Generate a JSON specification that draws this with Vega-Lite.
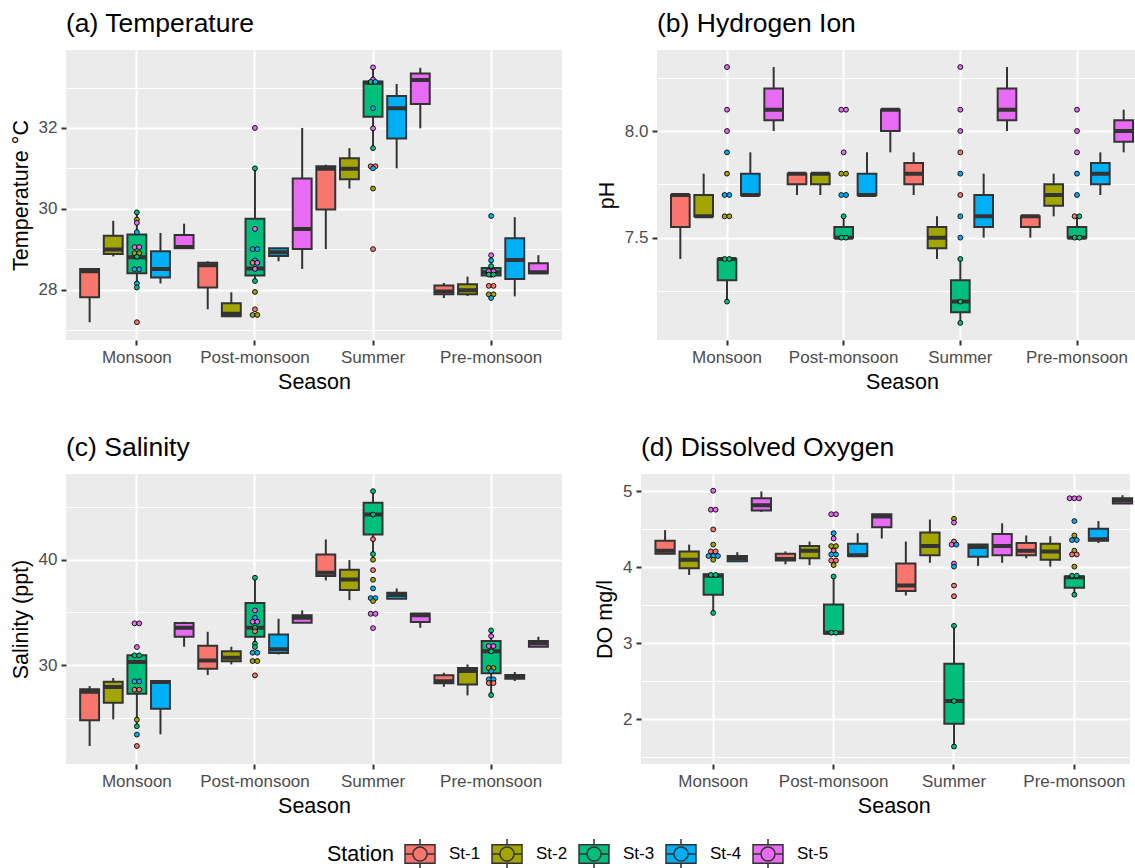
{
  "$schema": "https://vega.github.io/schema/vega-lite/v6.json",
  "padding": {"left": 10, "top": 10, "right": 0, "bottom": 0},
  "background": "#FFFFFF",
  "datasets": {
    "boxes": [
      {"param": "T", "season": "Monsoon", "station": "St-1", "low": 27.19, "q1": 27.81, "median": 28.45, "q3": 28.51, "high": 28.53},
      {"param": "T", "season": "Monsoon", "station": "St-2", "low": 28.82, "q1": 28.88, "median": 28.99, "q3": 29.33, "high": 29.70},
      {"param": "T", "season": "Monsoon", "station": "St-3", "low": 28.04, "q1": 28.40, "median": 28.80, "q3": 29.36, "high": 29.91},
      {"param": "T", "season": "Monsoon", "station": "St-4", "low": 28.15, "q1": 28.30, "median": 28.51, "q3": 28.95, "high": 29.40},
      {"param": "T", "season": "Monsoon", "station": "St-5", "low": 29.02, "q1": 29.02, "median": 29.05, "q3": 29.35, "high": 29.63},
      {"param": "T", "season": "Post-monsoon", "station": "St-1", "low": 27.51, "q1": 28.05, "median": 28.60, "q3": 28.66, "high": 28.70},
      {"param": "T", "season": "Post-monsoon", "station": "St-2", "low": 27.34, "q1": 27.34, "median": 27.40, "q3": 27.66, "high": 27.93},
      {"param": "T", "season": "Post-monsoon", "station": "St-3", "low": 28.21, "q1": 28.35, "median": 28.52, "q3": 29.75, "high": 31.00},
      {"param": "T", "season": "Post-monsoon", "station": "St-4", "low": 28.70, "q1": 28.83, "median": 28.92, "q3": 29.02, "high": 29.02},
      {"param": "T", "season": "Post-monsoon", "station": "St-5", "low": 28.51, "q1": 29.00, "median": 29.50, "q3": 30.75, "high": 32.00},
      {"param": "T", "season": "Summer", "station": "St-1", "low": 29.00, "q1": 29.98, "median": 30.99, "q3": 31.05, "high": 31.09},
      {"param": "T", "season": "Summer", "station": "St-2", "low": 30.50, "q1": 30.73, "median": 30.99, "q3": 31.25, "high": 31.50},
      {"param": "T", "season": "Summer", "station": "St-3", "low": 31.50, "q1": 32.28, "median": 33.12, "q3": 33.15, "high": 33.50},
      {"param": "T", "season": "Summer", "station": "St-4", "low": 31.00, "q1": 31.74, "median": 32.49, "q3": 32.79, "high": 33.09},
      {"param": "T", "season": "Summer", "station": "St-5", "low": 31.99, "q1": 32.59, "median": 33.19, "q3": 33.35, "high": 33.49},
      {"param": "T", "season": "Pre-monsoon", "station": "St-1", "low": 27.79, "q1": 27.88, "median": 27.95, "q3": 28.10, "high": 28.16},
      {"param": "T", "season": "Pre-monsoon", "station": "St-2", "low": 27.84, "q1": 27.88, "median": 27.98, "q3": 28.13, "high": 28.32},
      {"param": "T", "season": "Pre-monsoon", "station": "St-3", "low": 28.29, "q1": 28.35, "median": 28.43, "q3": 28.53, "high": 28.58},
      {"param": "T", "season": "Pre-monsoon", "station": "St-4", "low": 27.83, "q1": 28.26, "median": 28.73, "q3": 29.27, "high": 29.79},
      {"param": "T", "season": "Pre-monsoon", "station": "St-5", "low": 28.40, "q1": 28.40, "median": 28.43, "q3": 28.65, "high": 28.85},

      {"param": "pH", "season": "Monsoon", "station": "St-1", "low": 7.4, "q1": 7.55, "median": 7.7, "q3": 7.7, "high": 7.7},
      {"param": "pH", "season": "Monsoon", "station": "St-2", "low": 7.6, "q1": 7.6, "median": 7.6, "q3": 7.7, "high": 7.8},
      {"param": "pH", "season": "Monsoon", "station": "St-3", "low": 7.2, "q1": 7.3, "median": 7.4, "q3": 7.4, "high": 7.4},
      {"param": "pH", "season": "Monsoon", "station": "St-4", "low": 7.7, "q1": 7.7, "median": 7.7, "q3": 7.8, "high": 7.9},
      {"param": "pH", "season": "Monsoon", "station": "St-5", "low": 8.0, "q1": 8.05, "median": 8.1, "q3": 8.2, "high": 8.3},
      {"param": "pH", "season": "Post-monsoon", "station": "St-1", "low": 7.7, "q1": 7.75, "median": 7.8, "q3": 7.8, "high": 7.8},
      {"param": "pH", "season": "Post-monsoon", "station": "St-2", "low": 7.7, "q1": 7.75, "median": 7.8, "q3": 7.8, "high": 7.8},
      {"param": "pH", "season": "Post-monsoon", "station": "St-3", "low": 7.5, "q1": 7.5, "median": 7.5, "q3": 7.55, "high": 7.6},
      {"param": "pH", "season": "Post-monsoon", "station": "St-4", "low": 7.7, "q1": 7.7, "median": 7.7, "q3": 7.8, "high": 7.9},
      {"param": "pH", "season": "Post-monsoon", "station": "St-5", "low": 7.9, "q1": 8.0, "median": 8.1, "q3": 8.1, "high": 8.1},
      {"param": "pH", "season": "Summer", "station": "St-1", "low": 7.7, "q1": 7.75, "median": 7.8, "q3": 7.85, "high": 7.9},
      {"param": "pH", "season": "Summer", "station": "St-2", "low": 7.4, "q1": 7.45, "median": 7.5, "q3": 7.55, "high": 7.6},
      {"param": "pH", "season": "Summer", "station": "St-3", "low": 7.1, "q1": 7.15, "median": 7.2, "q3": 7.3, "high": 7.4},
      {"param": "pH", "season": "Summer", "station": "St-4", "low": 7.5, "q1": 7.55, "median": 7.6, "q3": 7.7, "high": 7.8},
      {"param": "pH", "season": "Summer", "station": "St-5", "low": 8.0, "q1": 8.05, "median": 8.1, "q3": 8.2, "high": 8.3},
      {"param": "pH", "season": "Pre-monsoon", "station": "St-1", "low": 7.5, "q1": 7.55, "median": 7.6, "q3": 7.6, "high": 7.6},
      {"param": "pH", "season": "Pre-monsoon", "station": "St-2", "low": 7.6, "q1": 7.65, "median": 7.7, "q3": 7.75, "high": 7.8},
      {"param": "pH", "season": "Pre-monsoon", "station": "St-3", "low": 7.5, "q1": 7.5, "median": 7.5, "q3": 7.55, "high": 7.6},
      {"param": "pH", "season": "Pre-monsoon", "station": "St-4", "low": 7.7, "q1": 7.75, "median": 7.8, "q3": 7.85, "high": 7.9},
      {"param": "pH", "season": "Pre-monsoon", "station": "St-5", "low": 7.9, "q1": 7.95, "median": 8.0, "q3": 8.05, "high": 8.1},

      {"param": "S", "season": "Monsoon", "station": "St-1", "low": 22.31, "q1": 24.75, "median": 27.47, "q3": 27.69, "high": 28.0},
      {"param": "S", "season": "Monsoon", "station": "St-2", "low": 24.84, "q1": 26.42, "median": 27.91, "q3": 28.42, "high": 28.77},
      {"param": "S", "season": "Monsoon", "station": "St-3", "low": 24.18, "q1": 27.28, "median": 30.28, "q3": 30.92, "high": 30.92},
      {"param": "S", "season": "Monsoon", "station": "St-4", "low": 23.42, "q1": 25.85, "median": 28.39, "q3": 28.48, "high": 28.48},
      {"param": "S", "season": "Monsoon", "station": "St-5", "low": 31.74, "q1": 32.69, "median": 33.54, "q3": 33.99, "high": 34.11},
      {"param": "S", "season": "Post-monsoon", "station": "St-1", "low": 29.05, "q1": 29.65, "median": 30.44, "q3": 31.84, "high": 33.16},
      {"param": "S", "season": "Post-monsoon", "station": "St-2", "low": 30.06, "q1": 30.35, "median": 30.70, "q3": 31.30, "high": 31.74},
      {"param": "S", "season": "Post-monsoon", "station": "St-3", "low": 31.71, "q1": 32.69, "median": 33.54, "q3": 35.89, "high": 38.29},
      {"param": "S", "season": "Post-monsoon", "station": "St-4", "low": 31.01, "q1": 31.14, "median": 31.49, "q3": 32.91, "high": 34.40},
      {"param": "S", "season": "Post-monsoon", "station": "St-5", "low": 34.02, "q1": 34.02, "median": 34.49, "q3": 34.72, "high": 35.19},
      {"param": "S", "season": "Summer", "station": "St-1", "low": 38.04, "q1": 38.45, "median": 38.77, "q3": 40.51, "high": 41.93},
      {"param": "S", "season": "Summer", "station": "St-2", "low": 36.17, "q1": 37.12, "median": 38.13, "q3": 39.05, "high": 39.97},
      {"param": "S", "season": "Summer", "station": "St-3", "low": 40.54, "q1": 42.41, "median": 44.30, "q3": 45.41, "high": 46.52},
      {"param": "S", "season": "Summer", "station": "St-4", "low": 36.30, "q1": 36.30, "median": 36.65, "q3": 36.87, "high": 37.28},
      {"param": "S", "season": "Summer", "station": "St-5", "low": 33.54, "q1": 34.08, "median": 34.72, "q3": 34.90, "high": 34.90},
      {"param": "S", "season": "Pre-monsoon", "station": "St-1", "low": 27.94, "q1": 28.26, "median": 28.45, "q3": 29.02, "high": 29.27},
      {"param": "S", "season": "Pre-monsoon", "station": "St-2", "low": 27.12, "q1": 28.16, "median": 29.43, "q3": 29.72, "high": 30.06},
      {"param": "S", "season": "Pre-monsoon", "station": "St-3", "low": 27.15, "q1": 29.21, "median": 31.30, "q3": 32.28, "high": 33.29},
      {"param": "S", "season": "Pre-monsoon", "station": "St-4", "low": 28.48, "q1": 28.70, "median": 28.86, "q3": 29.05, "high": 29.34},
      {"param": "S", "season": "Pre-monsoon", "station": "St-5", "low": 31.71, "q1": 31.75, "median": 32.06, "q3": 32.28, "high": 32.69},

      {"param": "DO", "season": "Monsoon", "station": "St-1", "low": 4.18, "q1": 4.18, "median": 4.22, "q3": 4.35, "high": 4.49},
      {"param": "DO", "season": "Monsoon", "station": "St-2", "low": 3.90, "q1": 3.99, "median": 4.10, "q3": 4.21, "high": 4.30},
      {"param": "DO", "season": "Monsoon", "station": "St-3", "low": 3.40, "q1": 3.64, "median": 3.89, "q3": 3.91, "high": 3.91},
      {"param": "DO", "season": "Monsoon", "station": "St-4", "low": 4.08, "q1": 4.08, "median": 4.12, "q3": 4.15, "high": 4.20},
      {"param": "DO", "season": "Monsoon", "station": "St-5", "low": 4.73, "q1": 4.75, "median": 4.82, "q3": 4.91, "high": 5.00},
      {"param": "DO", "season": "Post-monsoon", "station": "St-1", "low": 4.04, "q1": 4.09, "median": 4.11, "q3": 4.18, "high": 4.21},
      {"param": "DO", "season": "Post-monsoon", "station": "St-2", "low": 4.03, "q1": 4.12, "median": 4.22, "q3": 4.28, "high": 4.34},
      {"param": "DO", "season": "Post-monsoon", "station": "St-3", "low": 3.13, "q1": 3.13, "median": 3.14, "q3": 3.51, "high": 3.88},
      {"param": "DO", "season": "Post-monsoon", "station": "St-4", "low": 4.15, "q1": 4.15, "median": 4.16, "q3": 4.31, "high": 4.45},
      {"param": "DO", "season": "Post-monsoon", "station": "St-5", "low": 4.38, "q1": 4.53, "median": 4.67, "q3": 4.70, "high": 4.70},
      {"param": "DO", "season": "Summer", "station": "St-1", "low": 3.63, "q1": 3.69, "median": 3.76, "q3": 4.05, "high": 4.34},
      {"param": "DO", "season": "Summer", "station": "St-2", "low": 4.06, "q1": 4.16, "median": 4.28, "q3": 4.46, "high": 4.63},
      {"param": "DO", "season": "Summer", "station": "St-3", "low": 1.64, "q1": 1.94, "median": 2.24, "q3": 2.73, "high": 3.23},
      {"param": "DO", "season": "Summer", "station": "St-4", "low": 4.02, "q1": 4.14, "median": 4.27, "q3": 4.30, "high": 4.31},
      {"param": "DO", "season": "Summer", "station": "St-5", "low": 4.06, "q1": 4.16, "median": 4.28, "q3": 4.44, "high": 4.58},
      {"param": "DO", "season": "Pre-monsoon", "station": "St-1", "low": 4.12, "q1": 4.16, "median": 4.22, "q3": 4.32, "high": 4.42},
      {"param": "DO", "season": "Pre-monsoon", "station": "St-2", "low": 4.01, "q1": 4.10, "median": 4.21, "q3": 4.31, "high": 4.41},
      {"param": "DO", "season": "Pre-monsoon", "station": "St-3", "low": 3.64, "q1": 3.73, "median": 3.87, "q3": 3.88, "high": 3.88},
      {"param": "DO", "season": "Pre-monsoon", "station": "St-4", "low": 4.32, "q1": 4.35, "median": 4.37, "q3": 4.51, "high": 4.61},
      {"param": "DO", "season": "Pre-monsoon", "station": "St-5", "low": 4.84, "q1": 4.84, "median": 4.88, "q3": 4.91, "high": 4.95}
    ],
    "dots": [
      {"param": "T", "season": "Monsoon", "station": "St-3", "value": 29.91},
      {"param": "T", "season": "Monsoon", "station": "St-2", "value": 29.73},
      {"param": "T", "season": "Monsoon", "station": "St-5", "value": 29.65},
      {"param": "T", "season": "Monsoon", "station": "St-4", "value": 29.42},
      {"param": "T", "season": "Monsoon", "station": "St-5", "value": 29.05},
      {"param": "T", "season": "Monsoon", "station": "St-5", "value": 29.05},
      {"param": "T", "season": "Monsoon", "station": "St-2", "value": 28.9},
      {"param": "T", "season": "Monsoon", "station": "St-2", "value": 28.9},
      {"param": "T", "season": "Monsoon", "station": "St-3", "value": 28.81},
      {"param": "T", "season": "Monsoon", "station": "St-4", "value": 28.5},
      {"param": "T", "season": "Monsoon", "station": "St-4", "value": 28.5},
      {"param": "T", "season": "Monsoon", "station": "St-4", "value": 28.15},
      {"param": "T", "season": "Monsoon", "station": "St-3", "value": 28.05},
      {"param": "T", "season": "Monsoon", "station": "St-1", "value": 27.19},
      {"param": "T", "season": "Post-monsoon", "station": "St-5", "value": 32.0},
      {"param": "T", "season": "Post-monsoon", "station": "St-3", "value": 31.0},
      {"param": "T", "season": "Post-monsoon", "station": "St-5", "value": 29.5},
      {"param": "T", "season": "Post-monsoon", "station": "St-4", "value": 29.0},
      {"param": "T", "season": "Post-monsoon", "station": "St-4", "value": 29.0},
      {"param": "T", "season": "Post-monsoon", "station": "St-4", "value": 28.72},
      {"param": "T", "season": "Post-monsoon", "station": "St-1", "value": 28.66},
      {"param": "T", "season": "Post-monsoon", "station": "St-5", "value": 28.66},
      {"param": "T", "season": "Post-monsoon", "station": "St-5", "value": 28.51},
      {"param": "T", "season": "Post-monsoon", "station": "St-3", "value": 28.21},
      {"param": "T", "season": "Post-monsoon", "station": "St-2", "value": 27.94},
      {"param": "T", "season": "Post-monsoon", "station": "St-1", "value": 27.51},
      {"param": "T", "season": "Post-monsoon", "station": "St-2", "value": 27.37},
      {"param": "T", "season": "Post-monsoon", "station": "St-2", "value": 27.37},
      {"param": "T", "season": "Summer", "station": "St-5", "value": 33.5},
      {"param": "T", "season": "Summer", "station": "St-5", "value": 33.2},
      {"param": "T", "season": "Summer", "station": "St-3", "value": 33.14},
      {"param": "T", "season": "Summer", "station": "St-4", "value": 33.14},
      {"param": "T", "season": "Summer", "station": "St-4", "value": 32.49},
      {"param": "T", "season": "Summer", "station": "St-5", "value": 31.99},
      {"param": "T", "season": "Summer", "station": "St-3", "value": 31.5},
      {"param": "T", "season": "Summer", "station": "St-1", "value": 31.05},
      {"param": "T", "season": "Summer", "station": "St-1", "value": 31.05},
      {"param": "T", "season": "Summer", "station": "St-4", "value": 31.0},
      {"param": "T", "season": "Summer", "station": "St-2", "value": 30.5},
      {"param": "T", "season": "Summer", "station": "St-1", "value": 29.0},
      {"param": "T", "season": "Pre-monsoon", "station": "St-4", "value": 29.82},
      {"param": "T", "season": "Pre-monsoon", "station": "St-5", "value": 28.85},
      {"param": "T", "season": "Pre-monsoon", "station": "St-4", "value": 28.72},
      {"param": "T", "season": "Pre-monsoon", "station": "St-3", "value": 28.58},
      {"param": "T", "season": "Pre-monsoon", "station": "St-5", "value": 28.45},
      {"param": "T", "season": "Pre-monsoon", "station": "St-5", "value": 28.45},
      {"param": "T", "season": "Pre-monsoon", "station": "St-3", "value": 28.37},
      {"param": "T", "season": "Pre-monsoon", "station": "St-3", "value": 28.37},
      {"param": "T", "season": "Pre-monsoon", "station": "St-1", "value": 28.09},
      {"param": "T", "season": "Pre-monsoon", "station": "St-1", "value": 28.09},
      {"param": "T", "season": "Pre-monsoon", "station": "St-2", "value": 27.88},
      {"param": "T", "season": "Pre-monsoon", "station": "St-2", "value": 27.88},
      {"param": "T", "season": "Pre-monsoon", "station": "St-4", "value": 27.79},

      {"param": "pH", "season": "Monsoon", "station": "St-5", "value": 8.3},
      {"param": "pH", "season": "Monsoon", "station": "St-5", "value": 8.1},
      {"param": "pH", "season": "Monsoon", "station": "St-5", "value": 8.0},
      {"param": "pH", "season": "Monsoon", "station": "St-4", "value": 7.9},
      {"param": "pH", "season": "Monsoon", "station": "St-2", "value": 7.8},
      {"param": "pH", "season": "Monsoon", "station": "St-4", "value": 7.7},
      {"param": "pH", "season": "Monsoon", "station": "St-4", "value": 7.7},
      {"param": "pH", "season": "Monsoon", "station": "St-2", "value": 7.6},
      {"param": "pH", "season": "Monsoon", "station": "St-2", "value": 7.6},
      {"param": "pH", "season": "Monsoon", "station": "St-3", "value": 7.4},
      {"param": "pH", "season": "Monsoon", "station": "St-3", "value": 7.4},
      {"param": "pH", "season": "Monsoon", "station": "St-3", "value": 7.2},
      {"param": "pH", "season": "Post-monsoon", "station": "St-5", "value": 8.1},
      {"param": "pH", "season": "Post-monsoon", "station": "St-5", "value": 8.1},
      {"param": "pH", "season": "Post-monsoon", "station": "St-5", "value": 7.9},
      {"param": "pH", "season": "Post-monsoon", "station": "St-2", "value": 7.8},
      {"param": "pH", "season": "Post-monsoon", "station": "St-2", "value": 7.8},
      {"param": "pH", "season": "Post-monsoon", "station": "St-4", "value": 7.7},
      {"param": "pH", "season": "Post-monsoon", "station": "St-4", "value": 7.7},
      {"param": "pH", "season": "Post-monsoon", "station": "St-3", "value": 7.6},
      {"param": "pH", "season": "Post-monsoon", "station": "St-3", "value": 7.5},
      {"param": "pH", "season": "Post-monsoon", "station": "St-3", "value": 7.5},
      {"param": "pH", "season": "Summer", "station": "St-5", "value": 8.3},
      {"param": "pH", "season": "Summer", "station": "St-5", "value": 8.1},
      {"param": "pH", "season": "Summer", "station": "St-5", "value": 8.0},
      {"param": "pH", "season": "Summer", "station": "St-1", "value": 7.9},
      {"param": "pH", "season": "Summer", "station": "St-4", "value": 7.8},
      {"param": "pH", "season": "Summer", "station": "St-1", "value": 7.7},
      {"param": "pH", "season": "Summer", "station": "St-4", "value": 7.6},
      {"param": "pH", "season": "Summer", "station": "St-4", "value": 7.5},
      {"param": "pH", "season": "Summer", "station": "St-3", "value": 7.4},
      {"param": "pH", "season": "Summer", "station": "St-3", "value": 7.2},
      {"param": "pH", "season": "Summer", "station": "St-3", "value": 7.1},
      {"param": "pH", "season": "Pre-monsoon", "station": "St-5", "value": 8.1},
      {"param": "pH", "season": "Pre-monsoon", "station": "St-5", "value": 8.0},
      {"param": "pH", "season": "Pre-monsoon", "station": "St-5", "value": 7.9},
      {"param": "pH", "season": "Pre-monsoon", "station": "St-4", "value": 7.8},
      {"param": "pH", "season": "Pre-monsoon", "station": "St-4", "value": 7.7},
      {"param": "pH", "season": "Pre-monsoon", "station": "St-1", "value": 7.6},
      {"param": "pH", "season": "Pre-monsoon", "station": "St-3", "value": 7.6},
      {"param": "pH", "season": "Pre-monsoon", "station": "St-3", "value": 7.5},
      {"param": "pH", "season": "Pre-monsoon", "station": "St-3", "value": 7.5},

      {"param": "S", "season": "Monsoon", "station": "St-5", "value": 33.96},
      {"param": "S", "season": "Monsoon", "station": "St-5", "value": 33.96},
      {"param": "S", "season": "Monsoon", "station": "St-5", "value": 31.71},
      {"param": "S", "season": "Monsoon", "station": "St-3", "value": 30.92},
      {"param": "S", "season": "Monsoon", "station": "St-3", "value": 30.92},
      {"param": "S", "season": "Monsoon", "station": "St-4", "value": 28.45},
      {"param": "S", "season": "Monsoon", "station": "St-4", "value": 28.45},
      {"param": "S", "season": "Monsoon", "station": "St-1", "value": 27.66},
      {"param": "S", "season": "Monsoon", "station": "St-1", "value": 27.66},
      {"param": "S", "season": "Monsoon", "station": "St-2", "value": 24.81},
      {"param": "S", "season": "Monsoon", "station": "St-3", "value": 24.18},
      {"param": "S", "season": "Monsoon", "station": "St-4", "value": 23.39},
      {"param": "S", "season": "Monsoon", "station": "St-1", "value": 22.31},
      {"param": "S", "season": "Post-monsoon", "station": "St-3", "value": 38.29},
      {"param": "S", "season": "Post-monsoon", "station": "St-5", "value": 35.19},
      {"param": "S", "season": "Post-monsoon", "station": "St-4", "value": 34.49},
      {"param": "S", "season": "Post-monsoon", "station": "St-5", "value": 34.11},
      {"param": "S", "season": "Post-monsoon", "station": "St-5", "value": 34.11},
      {"param": "S", "season": "Post-monsoon", "station": "St-3", "value": 33.54},
      {"param": "S", "season": "Post-monsoon", "station": "St-1", "value": 33.2},
      {"param": "S", "season": "Post-monsoon", "station": "St-3", "value": 32.03},
      {"param": "S", "season": "Post-monsoon", "station": "St-3", "value": 31.71},
      {"param": "S", "season": "Post-monsoon", "station": "St-4", "value": 31.17},
      {"param": "S", "season": "Post-monsoon", "station": "St-4", "value": 31.17},
      {"param": "S", "season": "Post-monsoon", "station": "St-2", "value": 30.38},
      {"param": "S", "season": "Post-monsoon", "station": "St-2", "value": 30.38},
      {"param": "S", "season": "Post-monsoon", "station": "St-1", "value": 29.02},
      {"param": "S", "season": "Summer", "station": "St-3", "value": 46.52},
      {"param": "S", "season": "Summer", "station": "St-3", "value": 44.3},
      {"param": "S", "season": "Summer", "station": "St-1", "value": 41.96},
      {"param": "S", "season": "Summer", "station": "St-3", "value": 40.54},
      {"param": "S", "season": "Summer", "station": "St-2", "value": 40.0},
      {"param": "S", "season": "Summer", "station": "St-1", "value": 39.02},
      {"param": "S", "season": "Summer", "station": "St-2", "value": 38.1},
      {"param": "S", "season": "Summer", "station": "St-4", "value": 37.28},
      {"param": "S", "season": "Summer", "station": "St-4", "value": 36.36},
      {"param": "S", "season": "Summer", "station": "St-4", "value": 36.36},
      {"param": "S", "season": "Summer", "station": "St-2", "value": 36.08},
      {"param": "S", "season": "Summer", "station": "St-5", "value": 34.87},
      {"param": "S", "season": "Summer", "station": "St-5", "value": 34.87},
      {"param": "S", "season": "Summer", "station": "St-5", "value": 33.51},
      {"param": "S", "season": "Pre-monsoon", "station": "St-3", "value": 33.29},
      {"param": "S", "season": "Pre-monsoon", "station": "St-5", "value": 32.75},
      {"param": "S", "season": "Pre-monsoon", "station": "St-5", "value": 31.8},
      {"param": "S", "season": "Pre-monsoon", "station": "St-5", "value": 31.8},
      {"param": "S", "season": "Pre-monsoon", "station": "St-3", "value": 31.3},
      {"param": "S", "season": "Pre-monsoon", "station": "St-2", "value": 29.72},
      {"param": "S", "season": "Pre-monsoon", "station": "St-2", "value": 29.72},
      {"param": "S", "season": "Pre-monsoon", "station": "St-4", "value": 29.43},
      {"param": "S", "season": "Pre-monsoon", "station": "St-4", "value": 28.64},
      {"param": "S", "season": "Pre-monsoon", "station": "St-4", "value": 28.64},
      {"param": "S", "season": "Pre-monsoon", "station": "St-1", "value": 28.29},
      {"param": "S", "season": "Pre-monsoon", "station": "St-1", "value": 28.29},
      {"param": "S", "season": "Pre-monsoon", "station": "St-3", "value": 27.15},

      {"param": "DO", "season": "Monsoon", "station": "St-5", "value": 5.01},
      {"param": "DO", "season": "Monsoon", "station": "St-5", "value": 4.76},
      {"param": "DO", "season": "Monsoon", "station": "St-5", "value": 4.76},
      {"param": "DO", "season": "Monsoon", "station": "St-1", "value": 4.5},
      {"param": "DO", "season": "Monsoon", "station": "St-2", "value": 4.3},
      {"param": "DO", "season": "Monsoon", "station": "St-1", "value": 4.21},
      {"param": "DO", "season": "Monsoon", "station": "St-1", "value": 4.21},
      {"param": "DO", "season": "Monsoon", "station": "St-4", "value": 4.15},
      {"param": "DO", "season": "Monsoon", "station": "St-4", "value": 4.15},
      {"param": "DO", "season": "Monsoon", "station": "St-4", "value": 4.15},
      {"param": "DO", "season": "Monsoon", "station": "St-2", "value": 4.1},
      {"param": "DO", "season": "Monsoon", "station": "St-3", "value": 3.9},
      {"param": "DO", "season": "Monsoon", "station": "St-3", "value": 3.9},
      {"param": "DO", "season": "Monsoon", "station": "St-3", "value": 3.4},
      {"param": "DO", "season": "Post-monsoon", "station": "St-5", "value": 4.7},
      {"param": "DO", "season": "Post-monsoon", "station": "St-5", "value": 4.7},
      {"param": "DO", "season": "Post-monsoon", "station": "St-4", "value": 4.45},
      {"param": "DO", "season": "Post-monsoon", "station": "St-5", "value": 4.38},
      {"param": "DO", "season": "Post-monsoon", "station": "St-2", "value": 4.28},
      {"param": "DO", "season": "Post-monsoon", "station": "St-2", "value": 4.28},
      {"param": "DO", "season": "Post-monsoon", "station": "St-1", "value": 4.22},
      {"param": "DO", "season": "Post-monsoon", "station": "St-4", "value": 4.17},
      {"param": "DO", "season": "Post-monsoon", "station": "St-4", "value": 4.17},
      {"param": "DO", "season": "Post-monsoon", "station": "St-1", "value": 4.09},
      {"param": "DO", "season": "Post-monsoon", "station": "St-1", "value": 4.09},
      {"param": "DO", "season": "Post-monsoon", "station": "St-2", "value": 4.03},
      {"param": "DO", "season": "Post-monsoon", "station": "St-3", "value": 3.88},
      {"param": "DO", "season": "Post-monsoon", "station": "St-3", "value": 3.14},
      {"param": "DO", "season": "Post-monsoon", "station": "St-3", "value": 3.14},
      {"param": "DO", "season": "Summer", "station": "St-2", "value": 4.64},
      {"param": "DO", "season": "Summer", "station": "St-5", "value": 4.59},
      {"param": "DO", "season": "Summer", "station": "St-1", "value": 4.34},
      {"param": "DO", "season": "Summer", "station": "St-5", "value": 4.3},
      {"param": "DO", "season": "Summer", "station": "St-4", "value": 4.3},
      {"param": "DO", "season": "Summer", "station": "St-5", "value": 4.05},
      {"param": "DO", "season": "Summer", "station": "St-4", "value": 4.01},
      {"param": "DO", "season": "Summer", "station": "St-1", "value": 3.76},
      {"param": "DO", "season": "Summer", "station": "St-1", "value": 3.62},
      {"param": "DO", "season": "Summer", "station": "St-3", "value": 3.23},
      {"param": "DO", "season": "Summer", "station": "St-3", "value": 2.24},
      {"param": "DO", "season": "Summer", "station": "St-3", "value": 1.64},
      {"param": "DO", "season": "Pre-monsoon", "station": "St-5", "value": 4.91},
      {"param": "DO", "season": "Pre-monsoon", "station": "St-5", "value": 4.91},
      {"param": "DO", "season": "Pre-monsoon", "station": "St-5", "value": 4.91},
      {"param": "DO", "season": "Pre-monsoon", "station": "St-4", "value": 4.61},
      {"param": "DO", "season": "Pre-monsoon", "station": "St-2", "value": 4.42},
      {"param": "DO", "season": "Pre-monsoon", "station": "St-4", "value": 4.36},
      {"param": "DO", "season": "Pre-monsoon", "station": "St-4", "value": 4.36},
      {"param": "DO", "season": "Pre-monsoon", "station": "St-2", "value": 4.22},
      {"param": "DO", "season": "Pre-monsoon", "station": "St-1", "value": 4.17},
      {"param": "DO", "season": "Pre-monsoon", "station": "St-1", "value": 4.17},
      {"param": "DO", "season": "Pre-monsoon", "station": "St-2", "value": 4.01},
      {"param": "DO", "season": "Pre-monsoon", "station": "St-3", "value": 3.89},
      {"param": "DO", "season": "Pre-monsoon", "station": "St-3", "value": 3.89},
      {"param": "DO", "season": "Pre-monsoon", "station": "St-3", "value": 3.64}
    ]
  },
  "vconcat": [
    {
      "spacing": 34,
      "hconcat": [
        {
          "width": 496, "height": 290,
          "title": {"text": "(a) Temperature"},
          "layer": [
            {"data": {"name": "boxes"}, "transform": [{"filter": "datum.param === 'T'"}],
             "mark": {"type": "rule", "color": "#333333", "strokeWidth": 2},
             "encoding": {
               "x": {"field": "season", "type": "nominal", "sort": ["Monsoon", "Post-monsoon", "Summer", "Pre-monsoon"], "scale": {"paddingInner": 0, "paddingOuter": 0.1}, "axis": {"title": "Season", "labelAngle": 0, "bandPosition": 0.5, "grid": true, "gridWidth": 2}},
               "xOffset": {"field": "station", "type": "nominal", "scale": {"paddingInner": 0.2, "paddingOuter": 0.1}},
               "y": {"field": "low", "type": "quantitative", "scale": {"domain": [26.75, 33.93], "nice": false, "zero": false},
                     "axis": {"title": "Temperature °C", "values": [27, 28, 29, 30, 31, 32, 33], "labelExpr": "datum.value === round(datum.value / 2) * 2 ? format(datum.value, 'd') : ''",
                              "gridWidth": {"condition": {"test": "datum.value === round(datum.value / 2) * 2", "value": 2}, "value": 1},
                              "tickOpacity": {"condition": {"test": "datum.value === round(datum.value / 2) * 2", "value": 1}, "value": 0}}},
               "y2": {"field": "high"}
             }},
            {"data": {"name": "boxes"}, "transform": [{"filter": "datum.param === 'T'"}],
             "mark": {"type": "bar", "stroke": "#333333", "strokeWidth": 2},
             "encoding": {
               "x": {"field": "season", "type": "nominal", "sort": ["Monsoon", "Post-monsoon", "Summer", "Pre-monsoon"]},
               "xOffset": {"field": "station", "type": "nominal", "scale": {"paddingInner": 0.2, "paddingOuter": 0.1}},
               "y": {"field": "q1", "type": "quantitative"},
               "y2": {"field": "q3"},
               "fill": {"field": "station", "type": "nominal", "title": "Station", "scale": {"domain": ["St-1", "St-2", "St-3", "St-4", "St-5"], "range": ["#F8766D", "#A3A500", "#00BF7D", "#00B0F6", "#E76BF3"]}}
             }},
            {"data": {"name": "boxes"}, "transform": [{"filter": "datum.param === 'T'"}],
             "mark": {"type": "bar", "stroke": "#333333", "strokeWidth": 4, "fillOpacity": 0},
             "encoding": {
               "x": {"field": "season", "type": "nominal", "sort": ["Monsoon", "Post-monsoon", "Summer", "Pre-monsoon"]},
               "xOffset": {"field": "station", "type": "nominal", "scale": {"paddingInner": 0.2, "paddingOuter": 0.1}},
               "y": {"field": "median", "type": "quantitative"},
               "y2": {"field": "median"}
             }},
            {"data": {"name": "dots"},
             "transform": [
               {"filter": "datum.param === 'T'"},
               {"window": [{"op": "row_number", "as": "k"}], "groupby": ["season", "value"]},
               {"joinaggregate": [{"op": "count", "as": "n"}], "groupby": ["season", "value"]},
               {"calculate": "datum.k - (datum.n + 1) / 2", "as": "stack"}
             ],
             "mark": {"type": "circle", "size": 24, "stroke": "#000000", "strokeWidth": 0.9, "opacity": 1},
             "encoding": {
               "x": {"field": "season", "type": "nominal", "sort": ["Monsoon", "Post-monsoon", "Summer", "Pre-monsoon"]},
               "xOffset": {"field": "stack", "type": "quantitative", "scale": {"domain": [-1, 1], "range": [54.35, 63.75]}},
               "y": {"field": "value", "type": "quantitative"},
               "fill": {"field": "station", "type": "nominal", "title": "Station"}
             }}
          ],
          "resolve": {"scale": {"xOffset": "independent"}}
        },
        {
          "width": 479, "height": 290,
          "title": {"text": "(b) Hydrogen Ion"},
          "layer": [
            {"data": {"name": "boxes"}, "transform": [{"filter": "datum.param === 'pH'"}],
             "mark": {"type": "rule", "color": "#333333", "strokeWidth": 2},
             "encoding": {
               "x": {"field": "season", "type": "nominal", "sort": ["Monsoon", "Post-monsoon", "Summer", "Pre-monsoon"], "scale": {"paddingInner": 0, "paddingOuter": 0.1, "range": [0, 490]}, "axis": {"title": "Season", "labelAngle": 0, "bandPosition": 0.5, "grid": true, "gridWidth": 2}},
               "xOffset": {"field": "station", "type": "nominal", "scale": {"paddingInner": 0.2, "paddingOuter": 0.1}},
               "y": {"field": "low", "type": "quantitative", "scale": {"domain": [7.02, 8.38], "nice": false, "zero": false},
                     "axis": {"title": "pH", "values": [7.25, 7.5, 7.75, 8.0, 8.25], "labelExpr": "abs(datum.value * 2 - round(datum.value * 2)) < 0.001 ? format(datum.value, '.1f') : ''",
                              "gridWidth": {"condition": {"test": "abs(datum.value * 2 - round(datum.value * 2)) < 0.001", "value": 2}, "value": 1},
                              "tickOpacity": {"condition": {"test": "abs(datum.value * 2 - round(datum.value * 2)) < 0.001", "value": 1}, "value": 0}}},
               "y2": {"field": "high"}
             }},
            {"data": {"name": "boxes"}, "transform": [{"filter": "datum.param === 'pH'"}],
             "mark": {"type": "bar", "stroke": "#333333", "strokeWidth": 2},
             "encoding": {
               "x": {"field": "season", "type": "nominal", "sort": ["Monsoon", "Post-monsoon", "Summer", "Pre-monsoon"]},
               "xOffset": {"field": "station", "type": "nominal", "scale": {"paddingInner": 0.2, "paddingOuter": 0.1}},
               "y": {"field": "q1", "type": "quantitative"},
               "y2": {"field": "q3"},
               "fill": {"field": "station", "type": "nominal", "title": "Station"}
             }},
            {"data": {"name": "boxes"}, "transform": [{"filter": "datum.param === 'pH'"}],
             "mark": {"type": "bar", "stroke": "#333333", "strokeWidth": 4, "fillOpacity": 0},
             "encoding": {
               "x": {"field": "season", "type": "nominal", "sort": ["Monsoon", "Post-monsoon", "Summer", "Pre-monsoon"]},
               "xOffset": {"field": "station", "type": "nominal", "scale": {"paddingInner": 0.2, "paddingOuter": 0.1}},
               "y": {"field": "median", "type": "quantitative"},
               "y2": {"field": "median"}
             }},
            {"data": {"name": "dots"},
             "transform": [
               {"filter": "datum.param === 'pH'"},
               {"window": [{"op": "row_number", "as": "k"}], "groupby": ["season", "value"]},
               {"joinaggregate": [{"op": "count", "as": "n"}], "groupby": ["season", "value"]},
               {"calculate": "datum.k - (datum.n + 1) / 2", "as": "stack"}
             ],
             "mark": {"type": "circle", "size": 24, "stroke": "#000000", "strokeWidth": 0.9, "opacity": 1},
             "encoding": {
               "x": {"field": "season", "type": "nominal", "sort": ["Monsoon", "Post-monsoon", "Summer", "Pre-monsoon"]},
               "xOffset": {"field": "stack", "type": "quantitative", "scale": {"domain": [-1, 1], "range": [53.63, 63.03]}},
               "y": {"field": "value", "type": "quantitative"},
               "fill": {"field": "station", "type": "nominal", "title": "Station"}
             }}
          ],
          "resolve": {"scale": {"xOffset": "independent"}}
        }
      ]
    },
    {
      "spacing": 32,
      "hconcat": [
        {
          "width": 496, "height": 290,
          "title": {"text": "(c) Salinity"},
          "layer": [
            {"data": {"name": "boxes"}, "transform": [{"filter": "datum.param === 'S'"}],
             "mark": {"type": "rule", "color": "#333333", "strokeWidth": 2},
             "encoding": {
               "x": {"field": "season", "type": "nominal", "sort": ["Monsoon", "Post-monsoon", "Summer", "Pre-monsoon"], "scale": {"paddingInner": 0, "paddingOuter": 0.1}, "axis": {"title": "Season", "labelAngle": 0, "bandPosition": 0.5, "grid": true, "gridWidth": 2}},
               "xOffset": {"field": "station", "type": "nominal", "scale": {"paddingInner": 0.2, "paddingOuter": 0.1}},
               "y": {"field": "low", "type": "quantitative", "scale": {"domain": [20.6, 48.15], "nice": false, "zero": false},
                     "axis": {"title": "Salinity (ppt)", "values": [25, 30, 35, 40, 45], "labelExpr": "datum.value === round(datum.value / 10) * 10 ? format(datum.value, 'd') : ''",
                              "gridWidth": {"condition": {"test": "datum.value === round(datum.value / 10) * 10", "value": 2}, "value": 1},
                              "tickOpacity": {"condition": {"test": "datum.value === round(datum.value / 10) * 10", "value": 1}, "value": 0}}},
               "y2": {"field": "high"}
             }},
            {"data": {"name": "boxes"}, "transform": [{"filter": "datum.param === 'S'"}],
             "mark": {"type": "bar", "stroke": "#333333", "strokeWidth": 2},
             "encoding": {
               "x": {"field": "season", "type": "nominal", "sort": ["Monsoon", "Post-monsoon", "Summer", "Pre-monsoon"]},
               "xOffset": {"field": "station", "type": "nominal", "scale": {"paddingInner": 0.2, "paddingOuter": 0.1}},
               "y": {"field": "q1", "type": "quantitative"},
               "y2": {"field": "q3"},
               "fill": {"field": "station", "type": "nominal", "title": "Station"}
             }},
            {"data": {"name": "boxes"}, "transform": [{"filter": "datum.param === 'S'"}],
             "mark": {"type": "bar", "stroke": "#333333", "strokeWidth": 4, "fillOpacity": 0},
             "encoding": {
               "x": {"field": "season", "type": "nominal", "sort": ["Monsoon", "Post-monsoon", "Summer", "Pre-monsoon"]},
               "xOffset": {"field": "station", "type": "nominal", "scale": {"paddingInner": 0.2, "paddingOuter": 0.1}},
               "y": {"field": "median", "type": "quantitative"},
               "y2": {"field": "median"}
             }},
            {"data": {"name": "dots"},
             "transform": [
               {"filter": "datum.param === 'S'"},
               {"window": [{"op": "row_number", "as": "k"}], "groupby": ["season", "value"]},
               {"joinaggregate": [{"op": "count", "as": "n"}], "groupby": ["season", "value"]},
               {"calculate": "datum.k - (datum.n + 1) / 2", "as": "stack"}
             ],
             "mark": {"type": "circle", "size": 24, "stroke": "#000000", "strokeWidth": 0.9, "opacity": 1},
             "encoding": {
               "x": {"field": "season", "type": "nominal", "sort": ["Monsoon", "Post-monsoon", "Summer", "Pre-monsoon"]},
               "xOffset": {"field": "stack", "type": "quantitative", "scale": {"domain": [-1, 1], "range": [54.35, 63.75]}},
               "y": {"field": "value", "type": "quantitative"},
               "fill": {"field": "station", "type": "nominal", "title": "Station"}
             }}
          ],
          "resolve": {"scale": {"xOffset": "independent"}}
        },
        {
          "width": 489, "height": 290,
          "title": {"text": "(d) Dissolved Oxygen"},
          "layer": [
            {"data": {"name": "boxes"}, "transform": [{"filter": "datum.param === 'DO'"}],
             "mark": {"type": "rule", "color": "#333333", "strokeWidth": 2},
             "encoding": {
               "x": {"field": "season", "type": "nominal", "sort": ["Monsoon", "Post-monsoon", "Summer", "Pre-monsoon"], "scale": {"paddingInner": 0, "paddingOuter": 0.1, "range": [0, 505.6]}, "axis": {"title": "Season", "labelAngle": 0, "bandPosition": 0.5, "grid": true, "gridWidth": 2}},
               "xOffset": {"field": "station", "type": "nominal", "scale": {"paddingInner": 0.2, "paddingOuter": 0.1}},
               "y": {"field": "low", "type": "quantitative", "scale": {"domain": [1.41, 5.23], "nice": false, "zero": false},
                     "axis": {"title": "DO mg/l", "values": [1.5, 2, 2.5, 3, 3.5, 4, 4.5, 5], "labelExpr": "datum.value === round(datum.value) ? format(datum.value, 'd') : ''",
                              "gridWidth": {"condition": {"test": "datum.value === round(datum.value)", "value": 2}, "value": 1},
                              "tickOpacity": {"condition": {"test": "datum.value === round(datum.value)", "value": 1}, "value": 0}}},
               "y2": {"field": "high"}
             }},
            {"data": {"name": "boxes"}, "transform": [{"filter": "datum.param === 'DO'"}],
             "mark": {"type": "bar", "stroke": "#333333", "strokeWidth": 2},
             "encoding": {
               "x": {"field": "season", "type": "nominal", "sort": ["Monsoon", "Post-monsoon", "Summer", "Pre-monsoon"]},
               "xOffset": {"field": "station", "type": "nominal", "scale": {"paddingInner": 0.2, "paddingOuter": 0.1}},
               "y": {"field": "q1", "type": "quantitative"},
               "y2": {"field": "q3"},
               "fill": {"field": "station", "type": "nominal", "title": "Station"}
             }},
            {"data": {"name": "boxes"}, "transform": [{"filter": "datum.param === 'DO'"}],
             "mark": {"type": "bar", "stroke": "#333333", "strokeWidth": 4, "fillOpacity": 0},
             "encoding": {
               "x": {"field": "season", "type": "nominal", "sort": ["Monsoon", "Post-monsoon", "Summer", "Pre-monsoon"]},
               "xOffset": {"field": "station", "type": "nominal", "scale": {"paddingInner": 0.2, "paddingOuter": 0.1}},
               "y": {"field": "median", "type": "quantitative"},
               "y2": {"field": "median"}
             }},
            {"data": {"name": "dots"},
             "transform": [
               {"filter": "datum.param === 'DO'"},
               {"window": [{"op": "row_number", "as": "k"}], "groupby": ["season", "value"]},
               {"joinaggregate": [{"op": "count", "as": "n"}], "groupby": ["season", "value"]},
               {"calculate": "datum.k - (datum.n + 1) / 2", "as": "stack"}
             ],
             "mark": {"type": "circle", "size": 24, "stroke": "#000000", "strokeWidth": 0.9, "opacity": 1},
             "encoding": {
               "x": {"field": "season", "type": "nominal", "sort": ["Monsoon", "Post-monsoon", "Summer", "Pre-monsoon"]},
               "xOffset": {"field": "stack", "type": "quantitative", "scale": {"domain": [-1, 1], "range": [55.49, 64.89]}},
               "y": {"field": "value", "type": "quantitative"},
               "fill": {"field": "station", "type": "nominal", "title": "Station"}
             }}
          ],
          "resolve": {"scale": {"xOffset": "independent"}}
        }
      ]
    }
  ],
  "spacing": 41,
  "config": {
    "font": "Liberation Sans",
    "view": {"fill": "#EBEBEB", "stroke": null},
    "axis": {
      "domain": false,
      "tickColor": "#333333", "tickWidth": 2, "tickSize": 5,
      "labelColor": "#4D4D4D", "labelFontSize": 17, "labelPadding": 4,
      "titleColor": "#000000", "titleFontSize": 21.5, "titleFontWeight": "normal", "titlePadding": 6,
      "gridColor": "#FFFFFF"
    },
    "title": {"fontSize": 26.5, "fontWeight": "normal", "anchor": "start", "frame": "group", "color": "#000000", "baseline": "alphabetic", "offset": 13},
    "legend": {
      "orient": "none", "legendX": 261, "legendY": 788,
      "direction": "horizontal", "titleOrient": "left", "titleFontSize": 21.5, "titleFontWeight": "normal", "titleColor": "#000000", "titlePadding": 10,
      "labelFontSize": 17, "labelColor": "#000000", "labelOffset": 13, "columnPadding": 8,
      "symbolType": "M-1,-0.62H1V0.62H-1Z M-1,0H-0.47 M0.47,0H1 M0,-1V-0.62 M0,0.62V1 M0.47,0A0.47,0.47,0,1,1,-0.47,0A0.47,0.47,0,1,1,0.47,0Z",
      "symbolSize": 900, "symbolStrokeColor": "#333333", "symbolStrokeWidth": 1.5, "symbolOpacity": 1
    }
  }
}
